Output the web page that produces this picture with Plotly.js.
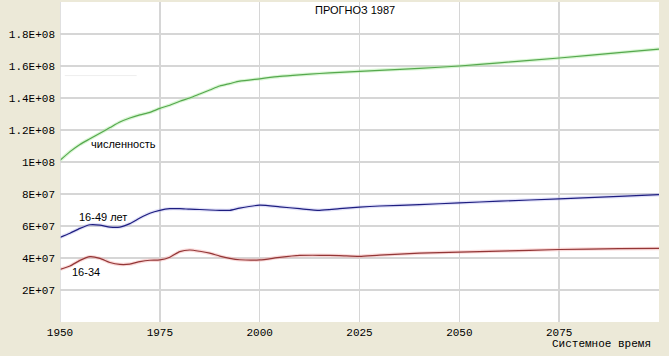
<!DOCTYPE html>
<html>
<head>
<meta charset="utf-8">
<script src="https://cdn.plot.ly/plotly-3.0.1.min.js"></script>
<style>html,body{margin:0;padding:0;background:#ECE9D8;}#chart{width:669px;height:356px;}</style>
</head>
<body>
<div id="chart"></div>
<script>
const titleText = "ПРОГНОЗ 1987";
const xTitle = "Системное время";
const seriesNames = ["численность", "16-49 лет", "16-34"];

const years = [1950,1952.5,1955,1957.5,1960,1962.5,1965,1967.5,1970,1972.5,1975,1977.5,1980,1982.5,1985,1987.5,1990,1992.5,1995,2000,2005,2010,2015,2020,2025,2030,2040,2050,2060,2075,2090,2100];

const total = [1.01e8,1.065e8,1.11e8,1.145e8,1.18e8,1.215e8,1.25e8,1.275e8,1.295e8,1.31e8,1.335e8,1.355e8,1.38e8,1.40e8,1.425e8,1.45e8,1.475e8,1.49e8,1.505e8,1.52e8,1.535e8,1.545e8,1.553e8,1.56e8,1.567e8,1.573e8,1.585e8,1.60e8,1.62e8,1.65e8,1.683e8,1.706e8];

const age16_49 = [5.29e7,5.55e7,5.85e7,6.08e7,6.06e7,5.93e7,5.93e7,6.15e7,6.5e7,6.8e7,6.98e7,7.08e7,7.08e7,7.05e7,7.03e7,7.0e7,6.98e7,6.98e7,7.12e7,7.3e7,7.2e7,7.08e7,6.98e7,7.08e7,7.18e7,7.25e7,7.33e7,7.45e7,7.55e7,7.7e7,7.85e7,7.96e7];

const age16_34 = [3.29e7,3.5e7,3.85e7,4.08e7,3.98e7,3.72e7,3.6e7,3.62e7,3.77e7,3.86e7,3.88e7,4.05e7,4.4e7,4.5e7,4.42e7,4.3e7,4.12e7,3.98e7,3.89e7,3.88e7,4.04e7,4.16e7,4.17e7,4.15e7,4.1e7,4.18e7,4.3e7,4.37e7,4.43e7,4.53e7,4.58e7,4.6e7];

const xTickVals = [1950,1975,2000,2025,2050,2075];
const xTickText = ["1950","1975","2000","2025","2050","2075"];
const yTickVals = [2e7,4e7,6e7,8e7,1e8,1.2e8,1.4e8,1.6e8,1.8e8];
const yTickText = ["2E+07","4E+07","6E+07","8E+07","1E+08","1.2E+08","1.4E+08","1.6E+08","1.8E+08"];

const lineColors = ["#56a84e","#1e1e80","#933636"];
const haloColors = ["rgba(170,235,160,0.45)","rgba(170,170,235,0.35)","rgba(245,170,170,0.45)"];
const seriesData = [total, age16_49, age16_34];

const traces = [];
seriesData.forEach((ys, i) => {
  traces.push({x: years, y: ys, type: "scatter", mode: "lines", line: {color: haloColors[i], width: 3.5, shape: "spline", smoothing: 0.6}, hoverinfo: "skip", showlegend: false});
});
seriesData.forEach((ys, i) => {
  traces.push({x: years, y: ys, type: "scatter", mode: "lines", name: seriesNames[i], line: {color: lineColors[i], width: 1.2, shape: "spline", smoothing: 0.6}, showlegend: false});
});

const mono = {family: "Liberation Mono, Courier New, monospace", size: 11, color: "#000"};
const sans = {family: "Liberation Sans, Arial, sans-serif", size: 11, color: "#000"};

const layout = {
  width: 669, height: 356,
  margin: {l: 60, r: 10, t: 2, b: 34, pad: 0},
  paper_bgcolor: "#ECE9D8",
  plot_bgcolor: "#FFFFFF",
  showlegend: false,
  xaxis: {
    range: [1950, 2100], tickvals: xTickVals, ticktext: xTickText,
    showgrid: true, gridcolor: "#D6D6D6", gridwidth: 1.5,
    zeroline: false, showline: false, ticks: "", tickfont: mono, ticklabelstandoff: 2
  },
  yaxis: {
    range: [0, 2e8], tickvals: yTickVals, ticktext: yTickText,
    showgrid: true, gridcolor: "#D6D6D6", gridwidth: 1.5,
    zeroline: false, showline: false, ticks: "", tickfont: mono, ticklabelstandoff: 4
  },
  shapes: [
    {type: "line", xref: "x", yref: "y", x0: 1950, x1: 1950, y0: 0, y1: 2e8, line: {color: "#D6D6D6", width: 1.5}},
    {type: "line", xref: "paper", yref: "paper", x0: 0.008, x1: 0.128, y0: 0.77, y1: 0.77, line: {color: "#EEEEEE", width: 1}}
  ],
  annotations: [
    {text: titleText, xref: "paper", yref: "paper", x: 0.492, y: 0.975, xanchor: "center", yanchor: "middle", showarrow: false, font: sans},
    {text: seriesNames[0], xref: "x", yref: "y", x: 1957.3, y: 1.115e8, xanchor: "left", yanchor: "middle", showarrow: false, font: sans},
    {text: seriesNames[1], xref: "x", yref: "y", x: 1954.2, y: 6.56e7, xanchor: "left", yanchor: "middle", showarrow: false, font: sans},
    {text: seriesNames[2], xref: "x", yref: "y", x: 1952.5, y: 3.15e7, xanchor: "left", yanchor: "middle", showarrow: false, font: sans},
    {text: xTitle, xref: "paper", yref: "paper", x: 0.99, y: -0.069, xanchor: "right", yanchor: "middle", showarrow: false, font: mono}
  ]
};

Plotly.newPlot("chart", traces, layout, {displayModeBar: false, staticPlot: true});
</script>
</body>
</html>
